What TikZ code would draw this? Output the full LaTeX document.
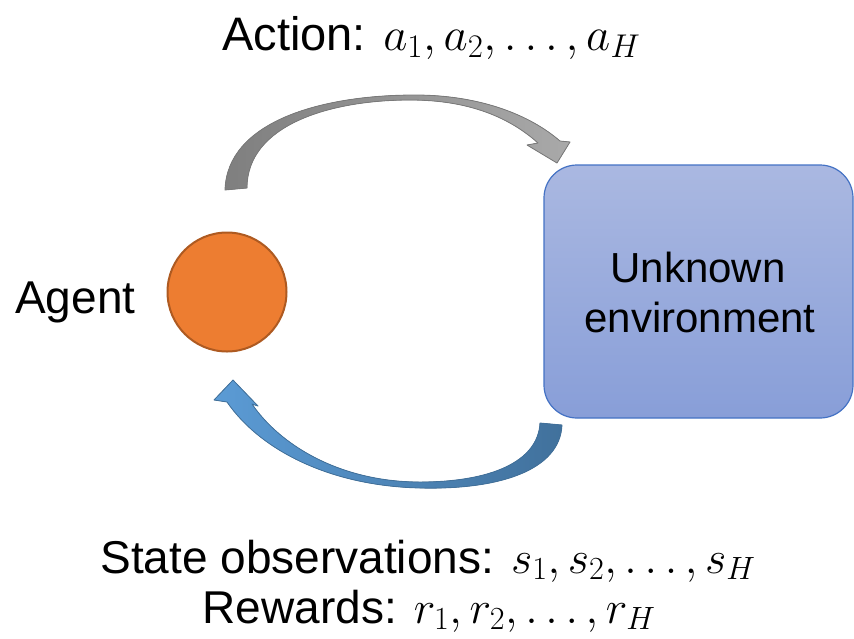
\RequirePackage{fix-cm}
\documentclass[tikz,border=0pt]{standalone}
\usepackage{fontspec}
\setmainfont{Liberation Sans}

\definecolor{agentfill}{HTML}{ED7D31}
\definecolor{agentedge}{HTML}{AE5A21}
\definecolor{envtop}{HTML}{AAB8E1}
\definecolor{envbottom}{HTML}{889ED8}
\definecolor{envedge}{HTML}{4472C4}
\definecolor{graydark}{HTML}{7F7F7F}
\definecolor{graylight}{HTML}{A9A9A9}
\definecolor{grayedge}{HTML}{7A7A7A}
\definecolor{bluelight}{HTML}{5B9BD5}
\definecolor{bluedark}{HTML}{41719C}

\tikzset{
  bigtext/.style={inner sep=0pt, font=\fontsize{#1}{#1}\selectfont},
  actionarrow/.style={left color=graydark, right color=graylight, draw=grayedge, line width=0.8pt, line join=round},
  statearrow/.style={left color=bluelight, right color=bluedark, draw=bluedark, line width=0.8pt, line join=round},
}

\begin{document}
\begin{tikzpicture}[x=1pt, y=-1pt]
\useasboundingbox (0,0) rectangle (854,638);

% agent and environment
\node[circle, inner sep=0pt, minimum size=119pt, fill=agentfill, draw=agentedge, line width=2pt] (agent) at (227,292) {};
\node[bigtext=46, anchor=base west] (agentlabel) at (15,313) {Agent};

\node[rounded corners=33pt, minimum width=309pt, minimum height=253pt, top color=envtop, bottom color=envbottom, draw=envedge, line width=1.2pt] (env) at (698.5,291.5) {};
\node[bigtext=42, anchor=base] (envlabel1) at (698,282) {Unknown};
\node[bigtext=42, anchor=base] (envlabel2) at (700,332) {environment};

% action arrow (agent -> environment)
\filldraw[actionarrow] (225,190) .. controls (227,122) and (320,95) .. (415,95)
  .. controls (480,95) and (530,115) .. (560,141) -- (570,142) -- (557,163) -- (527,145) -- (538,143)
  .. controls (510,118) and (470,100) .. (410,100)
  .. controls (330,100) and (247,125) .. (247,188) -- cycle;

% observation arrow (environment -> agent)
\filldraw[statearrow] (562,425) .. controls (560,470) and (500,490) .. (420,488)
  .. controls (330,486) and (260,450) .. (227,402) -- (214,400) -- (233,380) -- (258,406) -- (252,404)
  .. controls (280,445) and (340,482) .. (420,482)
  .. controls (490,482) and (538,462) .. (540,423) -- cycle;

% labels
\node[bigtext=47, anchor=base west] (action) at (222,50) {Action: $a_1, a_2, \ldots, a_H$};
\node[bigtext=46, anchor=base] (state) at (428,573) {State observations: $s_1, s_2, \ldots, s_H$};
\node[bigtext=46, anchor=base] (reward) at (429,623) {Rewards: $r_1, r_2, \ldots, r_H$};
\end{tikzpicture}
\end{document}
